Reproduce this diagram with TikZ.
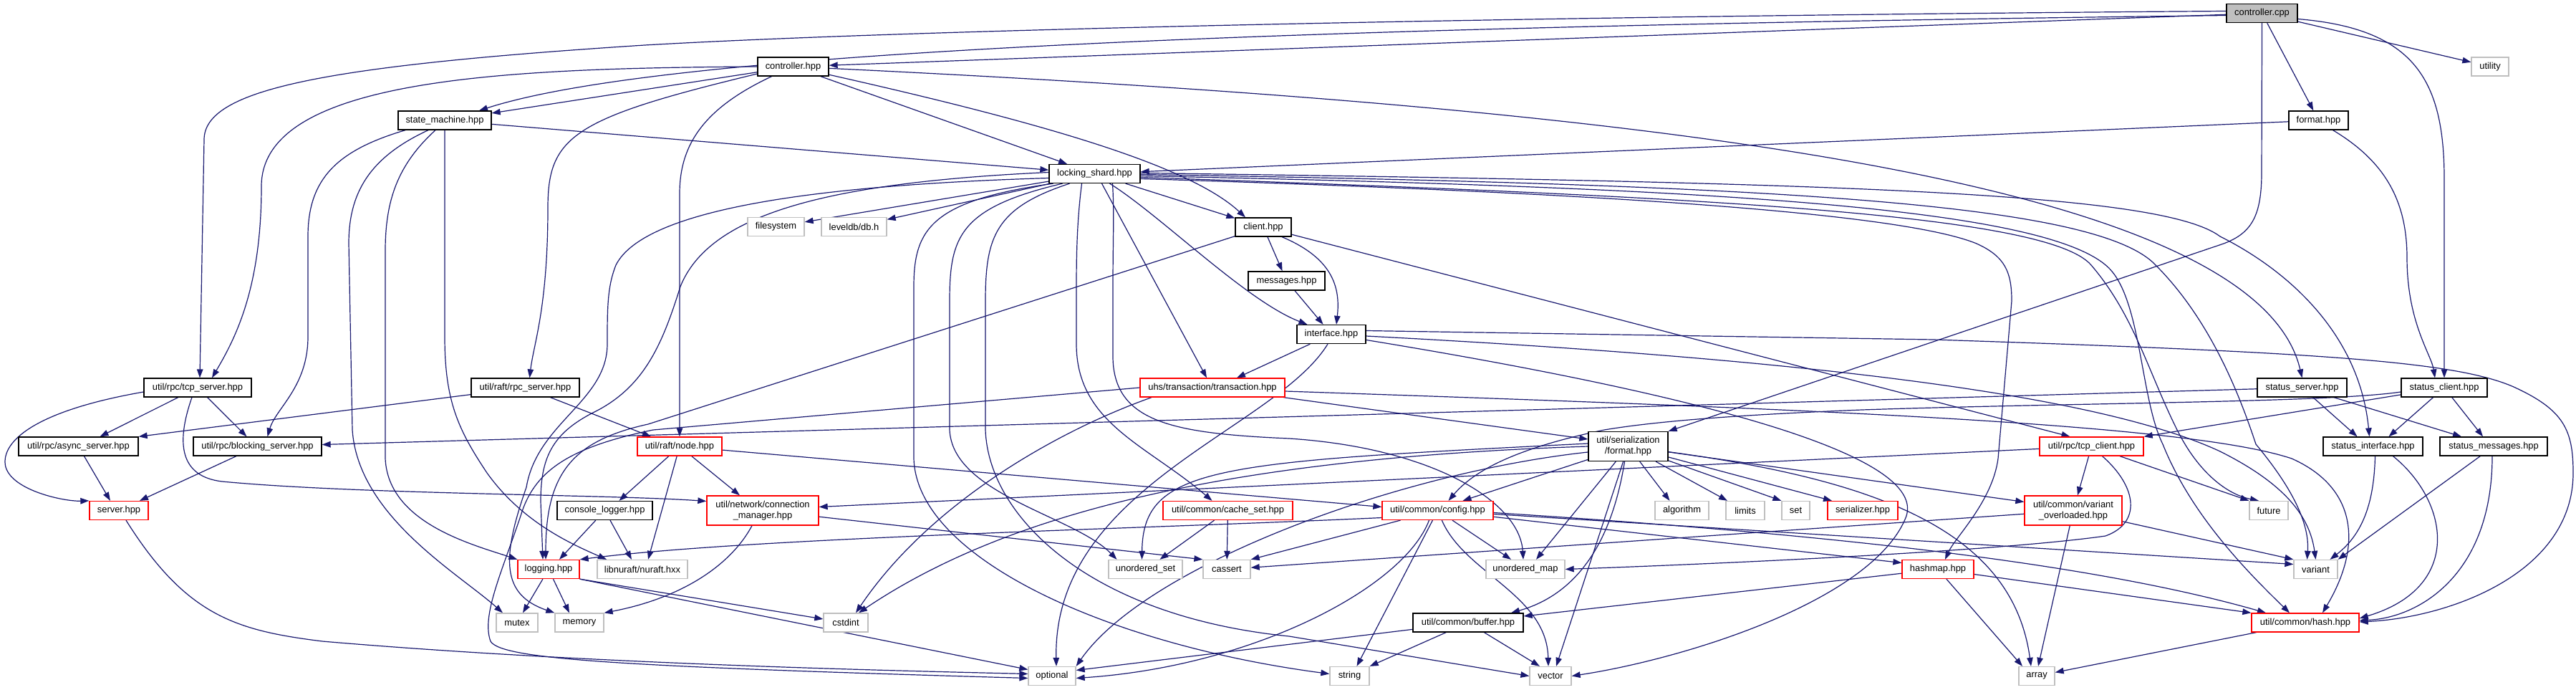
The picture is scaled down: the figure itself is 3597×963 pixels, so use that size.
\documentclass[tikz,border=0pt]{standalone}
\usepackage{fontspec}
\setmainfont{Liberation Sans}
\usetikzlibrary{arrows.meta,backgrounds}
\definecolor{edgeblue}{HTML}{191970}
\definecolor{nodegrey}{HTML}{BFBFBF}
\definecolor{nodered}{HTML}{FF0000}
\begin{document}
\begin{tikzpicture}[x=1pt,y=-1pt,
  base/.style={rectangle, fill=white, line width=1.3pt, inner sep=0pt, minimum height=26pt, font=\fontsize{12.9}{15}\selectfont, text=black},
  nb/.style={base, draw=black},
  nr/.style={base, draw=nodered},
  ng/.style={base, draw=nodegrey},
  root/.style={base, draw=black, fill=nodegrey},
  dbl/.style={minimum height=41pt, align=center},
  bw/.style={minimum width=#1pt},
  edg/.style={draw=edgeblue, line width=1.2pt, -{Triangle[length=12pt,width=8.5pt]}}
]
\useasboundingbox (0,0) rectangle (3597,963);
% nodes
\node[root,bw=99] (cpp) at (3158.5,18.5) {controller.cpp};
\node[ng,bw=52] (utility) at (3477,93) {utility};
\node[nb,bw=99] (chpp) at (1107.5,93) {controller.hpp};
\node[nb,bw=130] (sm) at (621,168) {state\_machine.hpp};
\node[nb,bw=83] (fmt) at (3237.5,168) {format.hpp};
\node[nb,bw=127] (ls) at (1528.5,242.5) {locking\_shard.hpp};
\node[ng,bw=79] (fs) at (1083.5,316.5) {filesystem};
\node[ng,bw=91] (ldb) at (1192.5,316.5) {leveldb/db.h};
\node[nb,bw=78] (client) at (1764,317) {client.hpp};
\node[nb,bw=107] (msgs) at (1796.5,392) {messages.hpp};
\node[nb,bw=96] (iface) at (1859,466.5) {interface.hpp};
\node[nb,bw=150] (tcps) at (276,541) {util/rpc/tcp\_server.hpp};
\node[nb,bw=151] (rrpc) at (733.5,541) {util/raft/rpc\_server.hpp};
\node[nr,bw=202] (tx) at (1693,541) {uhs/transaction/transaction.hpp};
\node[nb,bw=125] (ss) at (3214.5,541) {status\_server.hpp};
\node[nb,bw=120] (sc) at (3413,541) {status\_client.hpp};
\node[nb,bw=167] (async) at (109.5,623) {util/rpc/async\_server.hpp};
\node[nb,bw=179] (block) at (359.5,623) {util/rpc/blocking\_server.hpp};
\node[nr,bw=118] (rnode) at (949,623) {util/raft/node.hpp};
\node[nb,dbl,bw=111] (ser) at (2273.5,623) {util/serialization\\/format.hpp};
\node[nr,bw=145] (tcpc) at (2920.5,623) {util/rpc/tcp\_client.hpp};
\node[nb,bw=139] (si) at (3313.5,623) {status\_interface.hpp};
\node[nb,bw=150] (smsg) at (3482,623) {status\_messages.hpp};
\node[nr,bw=82] (server) at (166,712.5) {server.hpp};
\node[nr,dbl,bw=156] (conn) at (1065,712.5) {util/network/connection\\\_manager.hpp};
\node[nb,bw=133] (clog) at (844.5,712.5) {console\_logger.hpp};
\node[nr,bw=181] (cache) at (1714.5,712.5) {util/common/cache\_set.hpp};
\node[nr,bw=155] (cfg) at (2007.5,712.5) {util/common/config.hpp};
\node[ng,bw=75] (algo) at (2348.5,712.5) {algorithm};
\node[ng,bw=54] (lim) at (2437,712.5) {limits};
\node[ng,bw=39] (nset) at (2507.5,712.5) {set};
\node[nr,bw=98] (serz) at (2601,712.5) {serializer.hpp};
\node[nr,dbl,bw=136] (vo) at (2895,712.5) {util/common/variant\\\_overloaded.hpp};
\node[ng,bw=54] (fut) at (3168,712.5) {future};
\node[nr,bw=86] (log) at (766,794.5) {logging.hpp};
\node[ng,bw=126] (nu) at (897,794.5) {libnuraft/nuraft.hxx};
\node[ng,bw=103] (uset) at (1599.5,794.5) {unordered\_set};
\node[ng,bw=66] (cas) at (1713,794.5) {cassert};
\node[ng,bw=110] (umap) at (2130,794.5) {unordered\_map};
\node[nr,bw=100] (hm) at (2706,794.5) {hashmap.hpp};
\node[ng,bw=61] (var) at (3233.5,794.5) {variant};
\node[ng,bw=58] (mutex) at (722,869) {mutex};
\node[ng,bw=68] (mem) at (809,869) {memory};
\node[ng,bw=62] (cst) at (1181,869) {cstdint};
\node[nb,bw=154] (buf) at (2050,869) {util/common/buffer.hpp};
\node[nr,bw=150] (hash) at (3219,869) {util/common/hash.hpp};
\node[ng,bw=66] (opt) at (1469,943.5) {optional};
\node[ng,bw=55] (str) at (1884.5,943.5) {string};
\node[ng,bw=58] (vec) at (2165,943.5) {vector};
\node[ng,bw=50] (arr) at (2844,943.5) {array};

\begin{pgfonlayer}{background}
\fill[white] (0,0) rectangle (3597,963);
% controller.cpp
\draw[edg] (cpp) -- (chpp);
\draw[edg] ([yshift=-3pt]cpp.west) .. controls (1600,40) and (900,80) .. ([xshift=48pt]sm.north);
\draw[edg] ([yshift=3pt]cpp.west) .. controls (2200,22) and (1300,40) .. (900,63) .. controls (450,92) and (285,125) .. (285,195) -- ([xshift=3pt]tcps.north);
\draw[edg] (cpp) -- (fmt);
\draw[edg] (cpp) -- (utility);
\draw[edg] ([yshift=-8pt]cpp.east) .. controls (3370,40) and (3413,110) .. (3413,250) -- (sc.north);
\draw[edg] (cpp.south) -- (3158,240) .. controls (3158,300) and (3145,325) .. (3105,340) -- (ser.north east);
% controller.hpp
\draw[edg] (chpp) -- (sm);
\draw[edg] (chpp.west) .. controls (700,95) and (365,110) .. (365,260) .. controls (365,400) and (330,470) .. ([xshift=20pt]tcps.north);
\draw[edg] ([yshift=-10pt]chpp.west) .. controls (800,165) and (765,190) .. (765,290) .. controls (765,430) and (745,480) .. ([xshift=6pt]rrpc.north);
\draw[edg] ([xshift=-30pt]chpp.south) .. controls (985,150) and (949,200) .. (949,270) -- (rnode.north);
\draw[edg] (chpp) -- (ls);
\draw[edg] (chpp) .. controls (1450,170) and (1660,230) .. ([xshift=-25pt]client.north);
\draw[edg] (chpp) .. controls (2300,150) and (3150,250) .. (ss.north);
% state_machine
\draw[edg] (sm) -- (ls);
\draw[edg] ([xshift=-55pt]sm.south) .. controls (470,210) and (430,250) .. (430,330) -- (430,470) .. controls (430,540) and (385,570) .. ([xshift=14pt]block.north);
\draw[edg] ([xshift=-23pt]sm.south) .. controls (515,220) and (487,270) .. (487,340) -- (492,600) .. controls (500,720) and (640,800) .. ([xshift=-20pt]mutex.north);
\draw[edg] ([xshift=-13pt]sm.south) .. controls (555,230) and (538,280) .. (538,350) -- (538,640) .. controls (542,730) and (660,760) .. (log.north west);
\draw[edg] (sm.south) -- (621,470) .. controls (621,560) and (640,600) .. (680,660) .. controls (730,730) and (800,760) .. ([xshift=-50pt]nu.north);
% format.hpp
\draw[edg] (fmt) -- (ls);
\draw[edg] ([xshift=20pt]fmt.south) .. controls (3330,225) and (3361,280) .. (3361,360) .. controls (3361,450) and (3395,495) .. ([xshift=-13pt]sc.north);
% locking_shard
\draw[edg] (ls) -- (fs);
\draw[edg] (ls) -- (ldb);
\draw[edg] (ls) -- (client);
\draw[edg] ([xshift=21pt]ls.south) .. controls (1620,300) and (1740,420) .. ([xshift=15pt]iface.north west);
\draw[edg] ([xshift=10pt]ls.south) -- ([xshift=-8pt]tx.north);
\draw[edg] ([yshift=2pt]ls.west) .. controls (1150,255) and (990,300) .. (950,400) .. controls (925,480) and (900,540) .. (830,575) .. controls (770,605) and (755,640) .. (755,700) -- ([xshift=-8pt]log.north);
\draw[edg] ([yshift=-6pt]ls.west) .. controls (1150,258) and (900,290) .. (860,370) .. controls (848,400) and (848,430) .. (848,480) .. controls (848,560) and (750,590) .. (735,680) .. controls (700,780) and (700,830) .. (mem.north west);
\draw[edg] ([xshift=-58pt]ls.south) .. controls (1300,280) and (1276,320) .. (1276,400) -- (1276,640) .. controls (1280,780) and (1550,900) .. ([yshift=3pt]str.west);
\draw[edg] ([xshift=-45pt]ls.south) .. controls (1340,290) and (1326,330) .. (1326,420) -- (1326,600) .. controls (1330,690) and (1500,720) .. ([xshift=-40pt]uset.north);
\draw[edg] ([xshift=-35pt]ls.south) .. controls (1390,290) and (1376,330) .. (1376,420) -- (1376,600) .. controls (1380,720) and (1520,860) .. (1800,888) -- (vec.west);
\draw[edg] ([xshift=-18pt]ls.south) .. controls (1505,300) and (1503,340) .. (1503,400) -- (1503,480) .. controls (1503,590) and (1600,620) .. ([xshift=-22pt]cache.north);
\draw[edg] ([xshift=25pt]ls.south) .. controls (1556,300) and (1554,330) .. (1554,400) -- (1554,500) .. controls (1556,590) and (1640,605) .. (1800,612) .. controls (2000,625) and (2122,700) .. ([xshift=-3pt]umap.north);
\draw[edg] ([yshift=-7pt]ls.east) .. controls (2200,268) and (2650,295) .. (2760,340) .. controls (2800,358) and (2809,380) .. (2809,420) -- (2790,640) .. controls (2782,700) and (2730,750) .. ([xshift=10pt]hm.north);
\draw[edg] ([yshift=-3pt]ls.east) .. controls (2400,262) and (2880,290) .. (2950,380) .. controls (2990,430) and (2990,560) .. (3020,620) .. controls (3060,720) and (3140,800) .. ([xshift=-22pt]hash.north);
\draw[edg] ([yshift=-1pt]ls.east) .. controls (2500,258) and (2930,285) .. (3010,370) .. controls (3090,450) and (3130,560) .. (3150,620) .. controls (3200,680) and (3225,730) .. ([xshift=-12pt]var.north);
\draw[edg] ([yshift=1pt]ls.east) .. controls (2600,255) and (3020,270) .. (3100,330) .. controls (3200,380) and (3295,470) .. ([xshift=-5pt]si.north);
\draw[edg] ([yshift=-5pt]ls.east) .. controls (2400,275) and (2860,300) .. (2920,370) .. controls (2980,440) and (3000,520) .. (3040,600) .. controls (3070,660) and (3110,690) .. ([xshift=-14pt]fut.north);
% client
\draw[edg] (client) -- (msgs);
\draw[edg] ([xshift=26pt]client.south) .. controls (1860,360) and (1872,400) .. ([xshift=7pt]iface.north);
\draw[edg] (client) -- ([xshift=-30pt]tcpc.north);
\draw[edg] (client) -- (905,592) .. controls (800,615) and (762,660) .. ([xshift=-4pt]log.north);
\draw[edg] (msgs) -- (iface);
% interface
\draw[edg] (iface) -- ([xshift=34pt]tx.north);
\draw[edg] ([xshift=-5pt]iface.south) .. controls (1780,600) and (1470,680) .. ([xshift=6pt]opt.north);
\draw[edg] ([yshift=5pt]iface.east) -- (2700,474) .. controls (3250,492) and (3430,505) .. (3510,540) .. controls (3580,572) and (3593,600) .. (3593,660) .. controls (3593,800) and (3420,862) .. ([yshift=1pt]hash.east);
\draw[edg] (iface) .. controls (2600,505) and (2950,560) .. (3100,630) .. controls (3190,675) and (3225,720) .. (var.north);
\draw[edg] (iface) .. controls (2400,555) and (2700,640) .. (2660,725) .. controls (2610,840) and (2350,920) .. (vec.east);
% tcp_server
\draw[edg] (tcps) -- ([xshift=30pt]async.north);
\draw[edg] (tcps) -- ([xshift=-15pt]block.north);
\draw[edg] ([yshift=-6pt]tcps.west) .. controls (40,575) and (0,620) .. (8,652) .. controls (18,685) and (90,700) .. (server.north west);
\draw[edg] ([xshift=-8pt]tcps.south) .. controls (245,620) and (252,665) .. (310,672) .. controls (500,690) and (850,690) .. ([yshift=13pt]conn.west);
% rpc_server
\draw[edg] (rrpc) -- (async.north east);
\draw[edg] (rrpc) -- ([xshift=-40pt]rnode.north);
% transaction
\draw[edg] (tx) -- ([yshift=10pt]ser.west);
\draw[edg] ([xshift=-85pt]tx.south) .. controls (1480,600) and (1300,700) .. ([xshift=14pt]cst.north);
\draw[edg] (tx.west) -- (912,600) .. controls (790,625) and (745,660) .. (727,720) .. controls (700,800) and (672,860) .. (685,895) .. controls (700,920) and (860,930) .. ([yshift=-3pt]opt.west);
\draw[edg] ([yshift=-5pt]tx.east) .. controls (2500,570) and (3050,590) .. (3200,640) .. controls (3290,680) and (3300,760) .. ([xshift=24pt]hash.north);
% status_server / status_client
\draw[edg] (ss) -- (block);
\draw[edg] (ss) -- ([xshift=-22pt]si.north);
\draw[edg] (ss) -- ([xshift=-45pt]smsg.north);
\draw[edg] (sc) -- ([xshift=22pt]si.north);
\draw[edg] (sc) -- ([xshift=-15pt]smsg.north);
\draw[edg] (sc) -- (tcpc.north east);
\draw[edg] ([yshift=-6pt]sc.west) .. controls (3250,562) and (2900,562) .. (2600,572) .. controls (2400,580) and (2300,590) .. (2240,600) .. controls (2120,625) and (2060,655) .. ([xshift=15pt]cfg.north);
% servers
\draw[edg] (async) -- ([xshift=-12pt]server.north);
\draw[edg] (block) -- ([xshift=29pt]server.north);
\draw[edg] ([xshift=10pt]server.south) .. controls (260,860) and (330,880) .. (450,895) .. controls (800,925) and (1200,935) .. ([yshift=3pt]opt.west);
% raft node
\draw[edg] (rnode) -- ([xshift=20pt]clog.north);
\draw[edg] (rnode) -- ([xshift=8pt]nu.north);
\draw[edg] (rnode) -- ([xshift=-32pt]conn.north);
\draw[edg] (rnode) -- ([yshift=5pt]cfg.west);
\draw[edg] (clog) -- ([xshift=15pt]log.north);
\draw[edg] (clog) -- ([xshift=-15pt]nu.north);
% logging
\draw[edg] (log) -- ([xshift=8pt]mutex.north);
\draw[edg] (log) -- ([xshift=-14pt]mem.north);
\draw[edg] (log.south east) -- ([yshift=5pt]cst.west);
\draw[edg] (log.south east) -- ([yshift=9pt]opt.west);
% connection manager
\draw[edg] ([xshift=-15pt]conn.south) .. controls (1020,790) and (950,835) .. (mem.north east);
\draw[edg] (conn) -- (cas.north west);
% cache set
\draw[edg] (cache) -- ([xshift=20pt]uset.north);
\draw[edg] (cache) -- (cas);
% config
\draw[edg] ([yshift=-10pt]cfg.west) .. controls (1600,738) and (1050,750) .. (log.north east);
\draw[edg] (cfg) -- (cas.north east);
\draw[edg] (cfg) -- ([xshift=-20pt]umap.north);
\draw[edg] (cfg) -- ([xshift=10pt]str.north);
\draw[edg] (cfg) .. controls (2045,800) and (2160,830) .. ([xshift=-3pt]vec.north);
\draw[edg] ([xshift=-12pt]cfg.south) .. controls (1960,820) and (1750,930) .. ([yshift=-3pt]opt.east);
\draw[edg] (cfg) -- ([yshift=9pt]hm.west);
\draw[edg] ([yshift=-3pt]cfg.east) .. controls (2500,742) and (2900,780) .. ([xshift=-55pt]hash.north);
\draw[edg] ([yshift=-5pt]cfg.east) -- ([yshift=7pt]var.west);
% serialization format
\draw[edg] (ser) -- ([xshift=35pt]cfg.north);
\draw[edg] (ser) -- ([xshift=15pt]umap.north);
\draw[edg] ([xshift=-5pt]ser.south) .. controls (2250,760) and (2200,830) .. ([xshift=60pt]buf.north);
\draw[edg] (ser) -- ([xshift=8pt]vec.north);
\draw[edg] (ser) -- ([xshift=-17pt]algo.north);
\draw[edg] (ser) -- ([xshift=-25pt]lim.north);
\draw[edg] (ser) -- (nset.north west);
\draw[edg] (ser) -- ([xshift=-43pt]serz.north);
\draw[edg] (ser) -- ([yshift=12pt]vo.west);
\draw[edg] (ser) .. controls (2620,670) and (2810,740) .. ([xshift=-8pt]arr.north);
\draw[edg] ([yshift=-8pt]ser.west) .. controls (1950,660) and (1600,790) .. (opt.north east);
\draw[edg] (ser.west) .. controls (1700,640) and (1400,720) .. ([xshift=18pt]cst.north);
\draw[edg] ([yshift=4pt]ser.west) .. controls (1700,645) and (1596,650) .. ([xshift=-5pt]uset.north);
% variant_overloaded
\draw[edg] (vo) -- (var.north west);
\draw[edg] (vo) -- ([xshift=2pt]arr.north);
\draw[edg] (vo) -- (cas);
% tcp_client
\draw[edg] (tcpc) -- ([xshift=6pt]vo.north);
\draw[edg] ([xshift=15pt]tcpc.south) .. controls (2985,680) and (2990,730) .. (2940,748) .. controls (2800,768) and (2450,785) .. (umap.east);
\draw[edg] (tcpc) -- (fut.north west);
\draw[edg] (tcpc) -- ([yshift=5pt]conn.east);
% hashmap
\draw[edg] (hm) -- (hash.north west);
\draw[edg] (hm) -- ([xshift=-20pt]arr.north);
\draw[edg] (hm) -- ([yshift=9pt]buf.east);
% status interface / messages
\draw[edg] ([xshift=3pt]si.south) .. controls (3315,700) and (3300,745) .. ([xshift=20pt]var.north);
\draw[edg] ([xshift=28pt]si.south) .. controls (3420,700) and (3440,820) .. ([yshift=6pt]hash.east);
\draw[edg] (smsg) -- (var.north east);
\draw[edg] ([xshift=-2pt]smsg.south) .. controls (3480,800) and (3380,862) .. ([yshift=3pt]hash.east);
% hash / buffer
\draw[edg] (hash) -- (arr);
\draw[edg] (buf) -- ([yshift=8pt]opt.east);
\draw[edg] (buf) -- (str.north east);
\draw[edg] (buf) -- ([xshift=-15pt]vec.north);
\end{pgfonlayer}
\end{tikzpicture}
\end{document}
